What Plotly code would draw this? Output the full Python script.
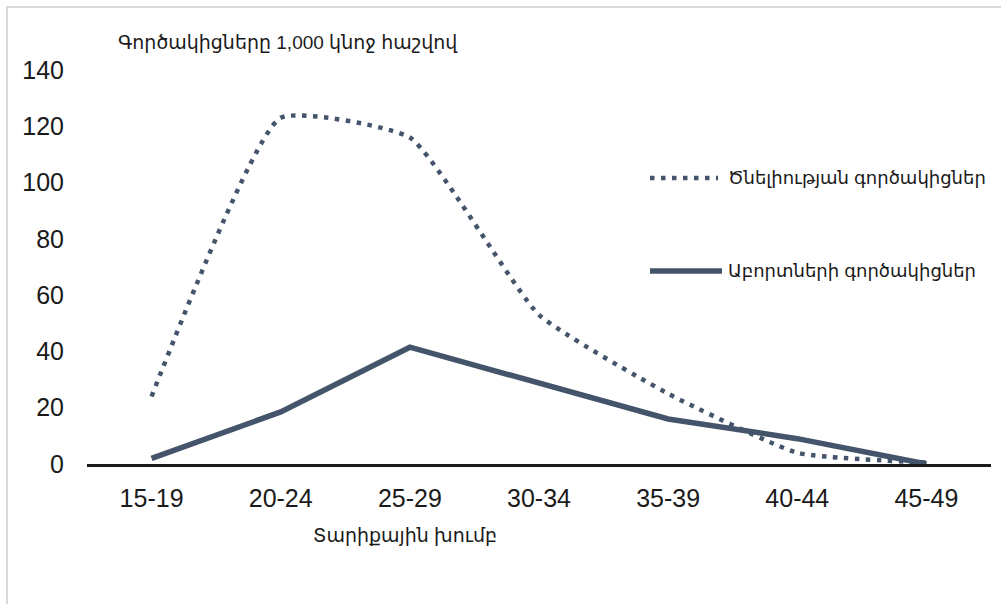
import plotly.graph_objects as go

age_groups = ["15-19", "20-24", "25-29", "30-34", "35-39", "40-44", "45-49"]
birth_rates = [24, 123, 116, 53, 25, 4, 0.5]
abortion_rates = [2, 18.5, 41.5, 29, 16, 9, 0]
y_ticks = [0, 20, 40, 60, 80, 100, 120, 140]

birth_label = "Ծնելիության գործակիցներ"
abortion_label = "Աբորտների գործակիցներ"
y_title = "Գործակիցները 1,000 կնոջ հաշվով"
x_title = "Տարիքային խումբ"

LINE = "#44546a"
TEXT = "#1a1a1a"
FONT = "Liberation Sans, Arial, DejaVu Sans, sans-serif"

fig = go.Figure()
fig.add_trace(go.Scatter(
    x=age_groups, y=birth_rates, mode="lines", name=birth_label,
    line=dict(color=LINE, width=4.5, dash="4.5px,6.5px", shape="spline", smoothing=0.45),
    showlegend=False, cliponaxis=False,
))
fig.add_trace(go.Scatter(
    x=age_groups, y=abortion_rates, mode="lines", name=abortion_label,
    line=dict(color=LINE, width=5.5),
    showlegend=False, cliponaxis=False,
))

W, H = 1001, 604
L, R, T, B = 87, 10, 70, 140
pw, ph = W - L - R, H - T - B

def px(x):
    return (x - L) / pw

def py(y):
    return (H - B - y) / ph

shapes = [
    dict(type="rect", xref="paper", yref="paper", x0=px(7), x1=px(1010), y0=py(7), y1=py(620),
         line=dict(color="#d9d9d9", width=2), fillcolor="rgba(0,0,0,0)", layer="below"),
    dict(type="line", xref="paper", yref="paper", x0=px(650), x1=px(718), y0=py(178), y1=py(178),
         line=dict(color=LINE, width=4.5, dash="4.5px,6.5px")),
    dict(type="line", xref="paper", yref="paper", x0=px(650), x1=px(722), y0=py(271), y1=py(271),
         line=dict(color=LINE, width=5.5)),
]

annotations = [
    dict(text=y_title, xref="paper", yref="paper", x=px(116), y=py(42), xanchor="left", yanchor="middle",
         showarrow=False, font=dict(family=FONT, size=19, color=TEXT)),
    dict(text=x_title, xref="paper", yref="paper", x=px(405), y=py(535), xanchor="center", yanchor="middle",
         showarrow=False, font=dict(family=FONT, size=19, color=TEXT)),
    dict(text=birth_label, xref="paper", yref="paper", x=px(726), y=py(178), xanchor="left", yanchor="middle",
         showarrow=False, font=dict(family=FONT, size=18, color=TEXT)),
    dict(text=abortion_label, xref="paper", yref="paper", x=px(726), y=py(271), xanchor="left", yanchor="middle",
         showarrow=False, font=dict(family=FONT, size=18, color=TEXT)),
]

fig.update_layout(
    width=W, height=H,
    margin=dict(l=L, r=R, t=T, b=B),
    paper_bgcolor="white", plot_bgcolor="white",
    shapes=shapes, annotations=annotations,
    font=dict(family=FONT, color=TEXT),
)
fig.update_xaxes(
    type="category", range=[-0.5, 6.5], showgrid=False, zeroline=False,
    showline=True, linecolor=TEXT, linewidth=3,
    ticks="", ticklabelstandoff=10, tickfont=dict(family=FONT, size=25, color=TEXT),
)
fig.update_yaxes(
    range=[0, 140], tickvals=y_ticks, showgrid=False, zeroline=False, showline=False,
    ticks="", ticklabelstandoff=22, tickfont=dict(family=FONT, size=25, color=TEXT),
)

fig.write_html(
    "out.html",
    config={"displayModeBar": False},
    post_script="document.body.style.margin='0';document.body.style.overflow='hidden';",
)
